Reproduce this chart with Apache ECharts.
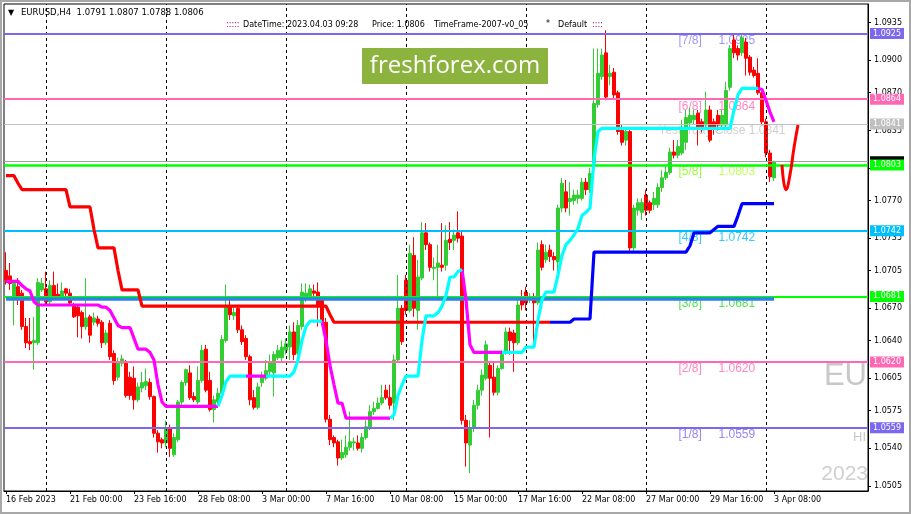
<!DOCTYPE html>
<html><head><meta charset="utf-8">
<script src="https://cdn.jsdelivr.net/npm/echarts@6/dist/echarts.min.js"></script>
<style>html,body{margin:0;padding:0;background:#fff}#c{width:911px;height:514px}</style>
</head><body><div id="c"></div>
<script>
// ---------- DATA ----------
// H4 candles EURUSD 16 Feb 2023 08:00 .. 3 Apr 2023 08:00 : [open, close, low, high]
const candles = [
[1.0705,1.0696,1.0692,1.0722],[1.0700,1.0693,1.0687,1.0712],[1.0678,1.0693,1.0654,1.0696],[1.0690,1.0678,1.0673,1.0698],
[1.0684,1.0653,1.0650,1.0687],[1.0653,1.0638,1.0633,1.0661],[1.0639,1.0637,1.0631,1.0661],[1.0638,1.0640,1.0613,1.0662],
[1.0638,1.0694,1.0636,1.0698],[1.0687,1.0693,1.0685,1.0698],[1.0688,1.0676,1.0673,1.0704],[1.0676,1.0691,1.0673,1.0696],
[1.0691,1.0680,1.0678,1.0704],[1.0683,1.0679,1.0678,1.0693],[1.0680,1.0686,1.0678,1.0694],[1.0688,1.0684,1.0681,1.0689],
[1.0684,1.0675,1.0673,1.0688],[1.0672,1.0662,1.0661,1.0675],[1.0671,1.0663,1.0643,1.0674],[1.0666,1.0653,1.0642,1.0668],
[1.0653,1.0661,1.0650,1.0698],[1.0662,1.0645,1.0638,1.0664],[1.0657,1.0661,1.0654,1.0666],[1.0660,1.0656,1.0653,1.0663],
[1.0657,1.0638,1.0633,1.0659],[1.0638,1.0647,1.0636,1.0650],[1.0656,1.0625,1.0622,1.0659],[1.0628,1.0603,1.0599,1.0631],
[1.0606,1.0620,1.0603,1.0624],[1.0619,1.0623,1.0616,1.0627],[1.0619,1.0589,1.0587,1.0622],[1.0606,1.0589,1.0585,1.0611],
[1.0605,1.0585,1.0576,1.0616],[1.0585,1.0597,1.0583,1.0601],[1.0596,1.0601,1.0592,1.0611],[1.0598,1.0602,1.0594,1.0614],
[1.0601,1.0588,1.0585,1.0605],[1.0588,1.0554,1.0550,1.0589],[1.0554,1.0546,1.0536,1.0557],[1.0548,1.0545,1.0540,1.0550],
[1.0545,1.0559,1.0541,1.0566],[1.0559,1.0540,1.0532,1.0562],[1.0534,1.0550,1.0532,1.0554],[1.0548,1.0583,1.0546,1.0585],
[1.0583,1.0601,1.0580,1.0603],[1.0601,1.0613,1.0598,1.0614],[1.0610,1.0587,1.0585,1.0617],[1.0588,1.0585,1.0583,1.0592],
[1.0583,1.0603,1.0581,1.0616],[1.0603,1.0631,1.0601,1.0636],[1.0632,1.0594,1.0592,1.0636],[1.0603,1.0576,1.0574,1.0611],
[1.0576,1.0585,1.0564,1.0589],[1.0583,1.0591,1.0580,1.0596],[1.0591,1.0641,1.0589,1.0645],[1.0640,1.0671,1.0638,1.0692],
[1.0671,1.0664,1.0659,1.0678],[1.0663,1.0666,1.0659,1.0673],[1.0670,1.0650,1.0647,1.0673],[1.0650,1.0639,1.0636,1.0654],
[1.0642,1.0625,1.0622,1.0645],[1.0625,1.0585,1.0580,1.0627],[1.0587,1.0578,1.0576,1.0594],[1.0578,1.0597,1.0576,1.0601],
[1.0601,1.0606,1.0597,1.0611],[1.0605,1.0612,1.0603,1.0622],[1.0611,1.0620,1.0608,1.0627],[1.0610,1.0627,1.0588,1.0630],
[1.0624,1.0631,1.0622,1.0636],[1.0624,1.0634,1.0620,1.0640],[1.0631,1.0637,1.0627,1.0642],[1.0634,1.0648,1.0622,1.0654],
[1.0648,1.0627,1.0622,1.0657],[1.0628,1.0654,1.0626,1.0659],[1.0653,1.0685,1.0650,1.0693],[1.0678,1.0684,1.0676,1.0693],
[1.0680,1.0688,1.0678,1.0692],[1.0686,1.0684,1.0680,1.0692],[1.0685,1.0673,1.0653,1.0694],[1.0678,1.0657,1.0654,1.0681],
[1.0657,1.0567,1.0564,1.0661],[1.0567,1.0548,1.0543,1.0571],[1.0550,1.0545,1.0541,1.0552],[1.0546,1.0531,1.0524,1.0548],
[1.0531,1.0536,1.0529,1.0548],[1.0534,1.0541,1.0531,1.0552],[1.0541,1.0546,1.0538,1.0574],[1.0545,1.0546,1.0538,1.0550],
[1.0545,1.0540,1.0538,1.0552],[1.0540,1.0550,1.0536,1.0554],[1.0550,1.0560,1.0548,1.0566],[1.0560,1.0574,1.0557,1.0580],
[1.0574,1.0577,1.0571,1.0583],[1.0577,1.0582,1.0576,1.0587],[1.0582,1.0587,1.0580,1.0599],[1.0594,1.0587,1.0585,1.0599],
[1.0587,1.0580,1.0576,1.0599],[1.0582,1.0622,1.0566,1.0627],[1.0622,1.0670,1.0620,1.0701],[1.0670,1.0639,1.0636,1.0673],
[1.0696,1.0668,1.0664,1.0701],[1.0668,1.0721,1.0666,1.0729],[1.0719,1.0670,1.0662,1.0736],[1.0668,1.0699,1.0650,1.0715],
[1.0698,1.0740,1.0696,1.0750],[1.0740,1.0729,1.0724,1.0749],[1.0729,1.0708,1.0704,1.0731],[1.0707,1.0708,1.0696,1.0717],
[1.0708,1.0712,1.0680,1.0729],[1.0710,1.0708,1.0704,1.0749],[1.0710,1.0733,1.0705,1.0747],[1.0734,1.0731,1.0724,1.0750],
[1.0733,1.0738,1.0724,1.0743],[1.0740,1.0735,1.0731,1.0760],[1.0737,1.0566,1.0562,1.0741],[1.0566,1.0545,1.0523,1.0571],
[1.0543,1.0559,1.0517,1.0566],[1.0559,1.0580,1.0555,1.0585],[1.0580,1.0594,1.0576,1.0599],[1.0594,1.0608,1.0589,1.0613],
[1.0605,1.0636,1.0603,1.0640],[1.0617,1.0605,1.0550,1.0620],[1.0606,1.0592,1.0589,1.0620],[1.0592,1.0614,1.0589,1.0617],
[1.0614,1.0627,1.0613,1.0631],[1.0629,1.0648,1.0627,1.0652],[1.0648,1.0640,1.0627,1.0652],[1.0647,1.0638,1.0611,1.0650],
[1.0638,1.0673,1.0636,1.0678],[1.0680,1.0673,1.0668,1.0687],[1.0685,1.0675,1.0668,1.0690],[1.0678,1.0680,1.0675,1.0684],
[1.0680,1.0675,1.0634,1.0684],[1.0675,1.0724,1.0673,1.0731],[1.0729,1.0708,1.0705,1.0733],[1.0715,1.0722,1.0712,1.0729],
[1.0724,1.0718,1.0713,1.0729],[1.0718,1.0715,1.0705,1.0722],[1.0713,1.0763,1.0704,1.0766],[1.0763,1.0786,1.0759,1.0791],
[1.0778,1.0763,1.0759,1.0789],[1.0769,1.0772,1.0756,1.0787],[1.0770,1.0775,1.0766,1.0780],[1.0772,1.0775,1.0767,1.0780],
[1.0772,1.0787,1.0770,1.0791],[1.0787,1.0780,1.0775,1.0791],[1.0780,1.0795,1.0777,1.0800],[1.0805,1.0860,1.0803,1.0911],
[1.0859,1.0888,1.0856,1.0911],[1.0885,1.0905,1.0882,1.0911],[1.0907,1.0866,1.0863,1.0928],[1.0885,1.0888,1.0877,1.0896],
[1.0889,1.0868,1.0865,1.0893],[1.0870,1.0834,1.0831,1.0872],[1.0835,1.0824,1.0821,1.0840],[1.0826,1.0834,1.0821,1.0837],
[1.0834,1.0726,1.0722,1.0836],[1.0726,1.0763,1.0722,1.0766],[1.0761,1.0768,1.0756,1.0772],[1.0759,1.0768,1.0752,1.0772],
[1.0775,1.0761,1.0756,1.0780],[1.0768,1.0761,1.0758,1.0770],[1.0766,1.0772,1.0761,1.0778],[1.0766,1.0782,1.0763,1.0786],
[1.0782,1.0791,1.0778,1.0798],[1.0791,1.0796,1.0789,1.0803],[1.0796,1.0815,1.0794,1.0819],[1.0815,1.0812,1.0809,1.0826],
[1.0812,1.0820,1.0809,1.0826],[1.0814,1.0838,1.0812,1.0845],[1.0824,1.0847,1.0817,1.0854],[1.0842,1.0849,1.0837,1.0856],
[1.0845,1.0849,1.0840,1.0854],[1.0851,1.0838,1.0821,1.0854],[1.0843,1.0837,1.0833,1.0846],[1.0840,1.0854,1.0837,1.0871],
[1.0854,1.0826,1.0824,1.0858],[1.0843,1.0838,1.0831,1.0846],[1.0849,1.0840,1.0835,1.0854],[1.0840,1.0849,1.0837,1.0854],
[1.0840,1.0872,1.0837,1.0880],[1.0875,1.0911,1.0872,1.0914],[1.0919,1.0907,1.0902,1.0925],[1.0911,1.0905,1.0900,1.0914],
[1.0907,1.0921,1.0904,1.0925],[1.0917,1.0902,1.0886,1.0921],[1.0903,1.0889,1.0886,1.0905],[1.0891,1.0886,1.0884,1.0894],
[1.0888,1.0870,1.0868,1.0902],[1.0870,1.0843,1.0840,1.0872],[1.0843,1.0814,1.0810,1.0846],[1.0814,1.0792,1.0787,1.0817],
[1.0791,1.0806,1.0788,1.0807]
];
const totalSlots = 216;                       // bars + empty chart shift on the right
const xTickIndex  = [0,16,32,48,64,80,96,112,128,144,160,176,192];
const xTickLabels = ['16 Feb 2023','21 Feb 00:00','23 Feb 16:00','28 Feb 08:00','3 Mar 00:00','7 Mar 16:00',
                     '10 Mar 08:00','15 Mar 00:00','17 Mar 16:00','22 Mar 08:00','27 Mar 00:00','29 Mar 16:00','3 Apr 08:00'];
const weekSeparators = [10,40,70,100,130,160,190];
const yTickValues = [1.0505,1.0540,1.0575,1.0605,1.0640,1.0670,1.0705,1.0735,1.0770,1.0800,1.0835,1.0870,1.0900,1.0935];

// Murrey math levels
const levelNames  = ['[7/8]','[6/8]','[5/8]','[4/8]','[3/8]','[2/8]','[1/8]'];
const levelValues = [1.0925,1.0864,1.0803,1.0742,1.0681,1.0620,1.0559];
const yesterdayClose = 1.0841;
const bidPrice = 1.0806;
const supportLine = {value: 1.0679, from: 0, to: 192};

// step stop line (value, number of bars)
const stopSteps = [[1.0793,3],[1.0786,1],[1.0780,12],[1.0764,6],[1.0743,1],[1.0726,5],[1.0705,1],[1.0687,5],
  [1.0672,47],[1.0664,1],[1.0657,60],[1.0660,5],[1.0722,24],[1.0728,1],[1.0740,5],[1.0743,1],[1.0746,5],[1.0756,1],[1.0767,9]];
const stopRedRanges  = [[0,136]];
const stopBlueRanges = [[136,192]];

// trailing line (value, number of bars)
const trailSteps = [[1.0695,4],[1.0691,1],[1.0688,1],[1.0686,1],[1.0676,1],[1.0673,16],[1.0671,2],[1.0668,1],[1.0661,1],
  [1.0654,1],[1.0652,3],[1.0642,1],[1.0632,3],[1.0629,1],[1.0622,1],[1.0599,1],[1.0583,1],[1.0579,14],[1.0589,1],[1.0602,1],
  [1.0607,16],[1.0611,1],[1.0622,1],[1.0640,1],[1.0653,1],[1.0658,4],[1.0640,1],[1.0617,1],[1.0599,1],[1.0582,2],[1.0568,12],
  [1.0571,1],[1.0589,1],[1.0599,1],[1.0607,4],[1.0640,1],[1.0663,3],[1.0666,1],[1.0672,1],[1.0682,1],[1.0699,2],[1.0704,1],
  [1.0706,1],[1.0678,1],[1.0636,1],[1.0629,13],[1.0634,3],[1.0659,1],[1.0678,1],[1.0685,3],[1.0701,1],[1.0719,1],[1.0729,1],
  [1.0733,1],[1.0738,1],[1.0744,1],[1.0756,1],[1.0759,1],[1.0763,1],[1.0808,1],[1.0834,1],[1.0837,33],[1.0854,1],[1.0868,1],
  [1.0874,5],[1.0873,1],[1.0863,1],[1.0852,1],[1.0843,1]];
const trailMagentaRanges = [[0,53],[60,65],[79,96],[114,124],[188,192]];
const trailCyanRanges    = [[53,60],[65,79],[96,114],[124,188]];

// projected path after the last bar
const projectionStart = 194;
const projectionValues = [1.0803,1.0780,1.0794,1.0819,1.0840];

// ---------- BUILD ----------
function expand(steps){const o=[];steps.forEach(([v,n])=>{for(let k=0;k<n;k++)o.push(v);});return o;}
function mask(vals, ranges){const o=new Array(totalSlots).fill(null);ranges.forEach(([a,b])=>{for(let i=a;i<=b;i++)o[i]=vals[i];});return o;}
const stopVals = expand(stopSteps), trailVals = expand(trailSteps);
const cats = []; for (let i=0;i<totalSlots;i++) cats.push(String(i));
const projData = new Array(totalSlots).fill(null);
projectionValues.forEach((v,k)=>{projData[projectionStart+k]=v;});

const FONT = 'DejaVu Sans';
const levelColors = ['#7B68EE','#FF69B4','#00FF00','#00BFFF','#00FF00','#FF69B4','#7B68EE'];
const levelNameColors = ['#8A7CF0','#FF69B4','#7CFC00','#00BFFF','#22DD22','#FF69B4','#7B68EE'];
const levelValColors  = ['#8A7CF0','#FF69B4','#ADFF2F','#00BFFF','#22DD22','#FF69B4','#7B68EE'];

function boxLabel(bg, fg){
  return {show:true, position:'end', distance:2, formatter:p=>Number(p.value).toFixed(4),
    backgroundColor:bg, color:fg||'#fff', padding:[2,3,1,3], fontSize:8, fontFamily:FONT, lineHeight:8};
}

const levelLines = levelValues.map((v,k)=>({yAxis:v, lineStyle:{color:levelColors[k], width:(k===2?2.5:2), type:'solid'}, label:boxLabel(levelColors[k])}));
levelLines.splice(2,0,{yAxis:yesterdayClose, lineStyle:{color:'#C0C0C0', width:1, type:'solid'}, label:boxLabel('#C0C0C0')});

const textPoints = [];
levelValues.forEach((v,k)=>{
  textPoints.push({value:[168,v], label:{formatter:levelNames[k], color:levelNameColors[k]}});
  textPoints.push({value:[178,v], label:{formatter:v.toFixed(4), color:levelValColors[k]}});
});
textPoints.push({value:[163,yesterdayClose], label:{formatter:'Yesterday Close '+yesterdayClose.toFixed(4), color:'rgba(185,185,185,0.85)'}});

const chart = echarts.init(document.getElementById('c'), null, {renderer:'canvas'});
const emptyData = new Array(totalSlots).fill(null);
chart.setOption({
  animation:false,
  backgroundColor:'#fff',
  textStyle:{fontFamily:FONT},
  grid:{left:4, right:43, top:4, bottom:23, show:true, borderColor:'#000', borderWidth:1, backgroundColor:'transparent'},
  xAxis:{type:'category', data:cats, boundaryGap:true,
    axisLine:{show:true, lineStyle:{color:'#000'}},
    axisTick:{show:true, alignWithLabel:true, length:3, interval:(i)=>xTickIndex.includes(i), lineStyle:{color:'#000'}},
    axisLabel:{show:true, interval:(i)=>xTickIndex.includes(i), align:'left', margin:5, fontSize:8, fontFamily:FONT, color:'#000',
      formatter:(v,i)=>{const k=xTickIndex.indexOf(i);return k>=0?xTickLabels[k]:'';}},
    splitLine:{show:false}},
  yAxis:{type:'value', position:'right', min:1.0500385, max:1.0952355, scale:true,
    axisLine:{show:true, lineStyle:{color:'#000'}},
    axisTick:{show:true, length:3, customValues:yTickValues, lineStyle:{color:'#000'}},
    axisLabel:{show:true, customValues:yTickValues, margin:6, fontSize:8, fontFamily:FONT, color:'#000', formatter:v=>v.toFixed(4)},
    splitLine:{show:false}},
  series:[
    {type:'line', data:emptyData, z:1, silent:true, symbol:'none',
      markLine:{silent:true, symbol:'none', precision:4, label:{show:false},
        lineStyle:{color:'#000', width:1, type:[3,3]},
        data:weekSeparators.map(i=>({xAxis:String(i)}))}},
    {type:'scatter', data:textPoints, z:1, silent:true, symbolSize:1, itemStyle:{color:'rgba(0,0,0,0)'},
      label:{show:true, position:'right', distance:0, offset:[0,7], fontSize:12, fontFamily:'Liberation Sans'}},
    {type:'candlestick', data:candles, z:2, barWidth:3, silent:true,
      itemStyle:{color:'#32CD32', color0:'#FF0000', borderColor:'#32CD32', borderColor0:'#FF0000', borderWidth:1}},
    {type:'line', data:emptyData, z:3, silent:true, symbol:'none',
      markLine:{silent:true, symbol:'none', precision:4,
        data:[{yAxis:bidPrice, lineStyle:{color:'#A0A0A0', width:1, type:'solid'}, label:boxLabel('#000','#000')}]}},
    {type:'line', data:emptyData, z:4, silent:true, symbol:'none',
      markLine:{silent:true, symbol:'none', precision:4, data:levelLines}},
    {type:'line', data:emptyData, z:4, silent:true, symbol:'none',
      markLine:{silent:true, symbol:'none', precision:4, label:{show:false},
        data:[[{coord:[String(supportLine.from),supportLine.value], lineStyle:{color:'#2F80ED', width:3.5, type:'solid'}},
               {coord:[String(supportLine.to),supportLine.value]}]]}},
    {type:'line', data:mask(stopVals,stopRedRanges), z:5, symbol:'none', silent:true, lineStyle:{color:'#FF0000', width:3.2}},
    {type:'line', data:mask(stopVals,stopBlueRanges), z:5, symbol:'none', silent:true, lineStyle:{color:'#0000FF', width:3.2}},
    {type:'line', data:mask(trailVals,trailMagentaRanges), z:6, symbol:'none', silent:true, lineStyle:{color:'#FF00FF', width:3.2}},
    {type:'line', data:mask(trailVals,trailCyanRanges), z:6, symbol:'none', silent:true, lineStyle:{color:'#00FFFF', width:3.2}},
    {type:'line', data:projData, z:6, symbol:'none', silent:true, smooth:0.5, lineStyle:{color:'#FF0000', width:3}}
  ],
  graphic:[
    {type:'rect', z:20, silent:true, shape:{x:1,y:1,width:909,height:512}, style:{fill:'none', stroke:'#A8A8A8', lineWidth:2}},
    {type:'text', z:20, x:8, y:13, style:{text:'▼', fontSize:8, fontFamily:FONT, fill:'#000', verticalAlign:'middle'}},
    {type:'text', z:20, x:21, y:13, style:{text:'EURUSD,H4  1.0791 1.0807 1.0788 1.0806', fontSize:8.5, fontFamily:FONT, fill:'#000', verticalAlign:'middle'}},
    {type:'text', z:20, x:226, y:25, style:{text:':::::', fontSize:8, fontFamily:FONT, fill:'#800080', verticalAlign:'middle'}},
    {type:'text', z:20, x:243, y:25, style:{text:'DateTime: 2023.04.03 09:28', fontSize:8, fontFamily:FONT, fill:'#000', verticalAlign:'middle'}},
    {type:'text', z:20, x:372, y:25, style:{text:'Price: 1.0806', fontSize:8, fontFamily:FONT, fill:'#000', verticalAlign:'middle'}},
    {type:'text', z:20, x:434, y:25, style:{text:'TimeFrame-2007-v0_05', fontSize:8, fontFamily:FONT, fill:'#000', verticalAlign:'middle'}},
    {type:'text', z:20, x:546, y:24, style:{text:'*', fontSize:8, fontFamily:FONT, fill:'#000', verticalAlign:'middle'}},
    {type:'text', z:20, x:558, y:25, style:{text:'Default', fontSize:8, fontFamily:FONT, fill:'#000', verticalAlign:'middle'}},
    {type:'text', z:20, x:592, y:25, style:{text:'::::', fontSize:8, fontFamily:FONT, fill:'#800080', verticalAlign:'middle'}},
    {type:'rect', z:20, silent:true, shape:{x:362,y:48,width:186,height:36}, style:{fill:'#8DB33F'}},
    {type:'text', z:21, x:455, y:66, style:{text:'freshforex.com', fontSize:24, fontFamily:'Open Sans', fill:'#fff', align:'center', verticalAlign:'middle'}},
    {type:'text', z:20, x:867, y:376, style:{text:'EU', fontSize:31, fontFamily:'Liberation Sans', fill:'#C8C8C8', align:'right', verticalAlign:'middle'}},
    {type:'text', z:20, x:866, y:437, style:{text:'HI', fontSize:13, fontFamily:'Liberation Sans', fill:'#C8C8C8', align:'right', verticalAlign:'middle'}},
    {type:'text', z:20, x:868, y:474, style:{text:'2023', fontSize:21, fontFamily:'Liberation Sans', fill:'#D0D0D0', align:'right', verticalAlign:'middle'}}
  ]
});
</script></body></html>
